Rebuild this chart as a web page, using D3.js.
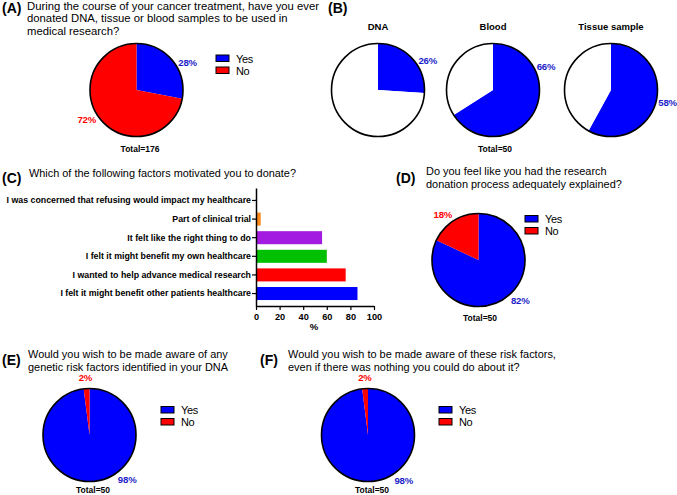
<!DOCTYPE html>
<html>
<head>
<meta charset="utf-8">
<script src="https://cdn.jsdelivr.net/npm/d3@7"></script>
<style>
  body { margin: 0; background: #fff; }
  svg text { font-family: "Liberation Sans", Arial, sans-serif; }
</style>
</head>
<body>
<svg id="fig" width="677" height="495"></svg>
<script>
// Data
const answers = ["Yes", "No"];
const donatedPct = [28, 72];            // (A) total 176
const sampleTypes = ["DNA", "Blood", "Tissue sample"];
const samplePct = [26, 66, 58];         // (B) total 50
const factorLabels = [
    "I was concerned that refusing would impact my healthcare",
    "Part of clinical trial",
    "It felt like the right thing to do",
    "I felt it might benefit my own healthcare",
    "I wanted to help advance medical research",
    "I felt it might benefit other patients healthcare"
];
const factorPct = [0, 4, 56, 60, 76, 86];
const factorTicks = [0, 20, 40, 60, 80, 100];
const explainedPct = [82, 18];          // (D)
const geneticRiskPct = [98, 2];         // (E)
const evenIfNothingPct = [98, 2];       // (F)

// Style
const BLUE = "#0000ff", RED = "#ff0000";
const BLUE_TXT = "#1c1cc8", RED_TXT = "#ff0000";
const factorColors = ["#000000", "#ff8a1c", "#a31ae0", "#00c000", "#ff0000", "#0000ff"];
const R = 46.5;

const svg = d3.select("#fig");

function panelTitle(x, tagY, tag, lines, tx, ty, size) {
    svg.append("text").attr("x", x).attr("y", tagY)
        .style("font-size", "14px").style("font-weight", "bold").text(tag);
    lines.forEach((t, i) => {
        svg.append("text").attr("x", tx).attr("y", ty + i * 12.6)
            .style("font-size", size + "px").text(t);
    });
}

// label angles in degrees clockwise from 12 o'clock, one per slice
function drawPie(cx, cy, values, colors, txtColors, labelDeg) {
    const g = svg.append("g").attr("transform", `translate(${cx},${cy})`);
    const arcs = d3.pie().sort(null).value(d => d)(values);
    const arc = d3.arc().innerRadius(0).outerRadius(R);
    g.selectAll("path").data(arcs).join("path")
        .attr("d", arc)
        .attr("fill", (d, i) => colors[i])
        .attr("stroke", "none");
    g.append("circle").attr("r", R).attr("fill", "none")
        .attr("stroke", "#000").attr("stroke-width", 1.6);
    arcs.forEach((d, i) => {
        if (labelDeg[i] == null) return;
        const a = labelDeg[i] * Math.PI / 180, r = 58;
        g.append("text")
            .attr("x", r * Math.sin(a)).attr("y", -r * Math.cos(a) + 3.5)
            .attr("text-anchor", "middle")
            .attr("fill", txtColors[i])
            .style("font-size", "9.6px").style("font-weight", "bold")
            .style("letter-spacing", "-0.2px")
            .text(d.data + "%");
    });
}

function totalLabel(x, y, n) {
    svg.append("text").attr("x", x).attr("y", y).attr("text-anchor", "middle")
        .style("font-size", "8.5px").style("font-weight", "bold")
        .text("Total=" + n);
}

function legend(x, y) {
    const g = svg.append("g").attr("transform", `translate(${x},${y})`);
    answers.forEach((a, i) => {
        g.append("rect").attr("x", 0).attr("y", i * 12)
            .attr("width", 13).attr("height", 6.5)
            .attr("fill", i === 0 ? BLUE : RED)
            .attr("stroke", "#000").attr("stroke-width", 1);
        g.append("text").attr("x", 20).attr("y", i * 12 + 7.5)
            .style("font-size", "11px").style("letter-spacing", "-0.4px").text(a);
    });
}

////////// (A) //////////
panelTitle(2, 12.5, "(A)", [
    "During the course of your cancer treatment, have you ever",
    "donated DNA, tissue or blood samples to be used in",
    "medical research?"
], 27, 9.8, 11.3);
drawPie(136.5, 90, donatedPct, [BLUE, RED], [BLUE_TXT, RED_TXT], [61.7, 239]);
totalLabel(140, 151.5, 176);
legend(216, 55);

////////// (B) //////////
svg.append("text").attr("x", 328).attr("y", 12.5)
    .style("font-size", "14px").style("font-weight", "bold").text("(B)");
const bx = [378, 493, 611];
const bLabelDeg = [59, 66, 102.6];
sampleTypes.forEach((s, i) => {
    svg.append("text").attr("x", bx[i]).attr("y", 29.5).attr("text-anchor", "middle")
        .style("font-size", "9.5px").style("font-weight", "bold").text(s);
    drawPie(bx[i], 90, [samplePct[i], 100 - samplePct[i]], [BLUE, "#fff"],
        [BLUE_TXT, "none"], [bLabelDeg[i], null]);
});
totalLabel(495, 152, 50);

////////// (C) //////////
panelTitle(2, 183, "(C)", ["Which of the following factors motivated you to donate?"], 29, 176.5, 10.9);

const xC = d3.scaleLinear().domain([0, 100]).range([256, 374]);
const yC = d3.scaleBand().domain(factorLabels).range([188, 306])
    .paddingInner(0.3).paddingOuter(0.32);

svg.append("g").selectAll("rect").data(factorPct).join("rect")
    .attr("x", xC(0))
    .attr("y", (d, i) => yC(factorLabels[i]))
    .attr("width", d => xC(d) - xC(0))
    .attr("height", yC.bandwidth())
    .attr("fill", (d, i) => factorColors[i]);

const xAxis = svg.append("g").attr("transform", "translate(0,306)")
    .call(d3.axisBottom(xC).tickValues(factorTicks).tickSize(4).tickSizeOuter(0));
const yAxis = svg.append("g").attr("transform", "translate(256,0)")
    .call(d3.axisLeft(yC).tickSize(4).tickSizeOuter(0));
[xAxis, yAxis].forEach(ax => {
    ax.select(".domain").attr("stroke-width", 1.5);
    ax.selectAll(".tick line").attr("stroke-width", 1.2);
    ax.selectAll("text").style("font-weight", "bold").attr("fill", "#000");
});
yAxis.selectAll("text").attr("x", -5).style("font-size", "8.8px");
xAxis.selectAll("text").attr("y", 7).style("font-size", "9.2px");
svg.append("text").attr("x", 314).attr("y", 329.5).attr("text-anchor", "middle")
    .style("font-size", "9.5px").style("font-weight", "bold").text("%");

////////// (D) //////////
panelTitle(396, 183, "(D)", [
    "Do you feel like you had the research",
    "donation process adequately explained?"
], 426, 175, 10.95);
drawPie(478.5, 260, explainedPct, [BLUE, RED], [BLUE_TXT, RED_TXT], [134, 322]);
totalLabel(480, 321, 50);
legend(525, 215.5);

////////// (E) //////////
panelTitle(2, 364.5, "(E)", [
    "Would you wish to be made aware of any",
    "genetic risk factors identified in your DNA"
], 28, 358, 10.95);
drawPie(89.5, 435, geneticRiskPct, [BLUE, RED], [BLUE_TXT, RED_TXT], [139.5, 356]);
totalLabel(93, 493, 50);
legend(161, 406.5);

////////// (F) //////////
panelTitle(260, 364.5, "(F)", [
    "Would you wish to be made aware of these risk factors,",
    "even if there was nothing you could do about it?"
], 288, 358, 10.95);
drawPie(368, 435, evenIfNothingPct, [BLUE, RED], [BLUE_TXT, RED_TXT], [142, 357]);
totalLabel(372, 493, 50);
legend(439, 406.5);
</script>
</body>
</html>
